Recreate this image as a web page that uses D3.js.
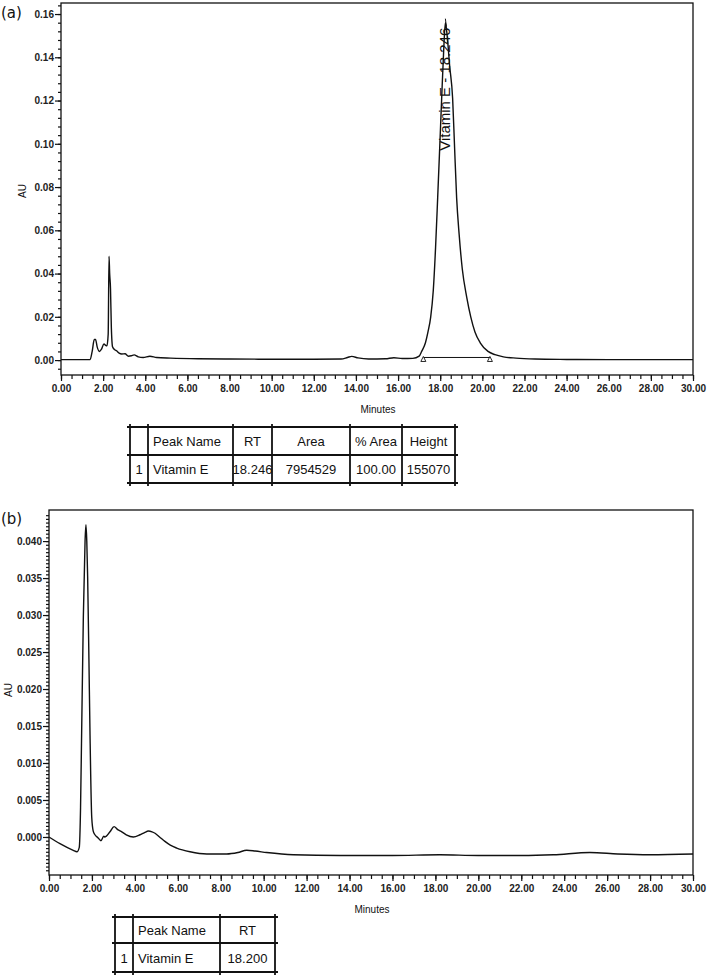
<!DOCTYPE html>
<meta charset="utf-8">
<style>
  body { margin: 0; background: #fff; }
  .trace { fill: none; stroke: #111; stroke-width: 1.4px; stroke-linejoin: round; }
  .frame { fill: none; stroke: #111; stroke-width: 1.3px; }
  .tick line { stroke: #111; stroke-width: 1.2px; }
  .lbl { font-family: "Liberation Sans", Arial, sans-serif; font-size: 10px; fill: #111; }
  .num { font-family: "Liberation Sans", Arial, sans-serif; font-size: 10px; font-weight: bold; fill: #222; }
  .tbl { font-family: "Liberation Sans", Arial, sans-serif; font-size: 13px; fill: #111; }
  .peak { font-family: "Liberation Sans", Arial, sans-serif; font-size: 15px; fill: #111; }
  .tag { font-family: "DejaVu Sans", sans-serif; font-size: 15px; fill: #111; }
</style>
<body>
<script src="https://cdn.jsdelivr.net/npm/d3@7"></script>
<script>
// panel (a): standard, minutes vs AU
var timeA = [0.00, 1.38, 1.48, 1.58, 1.64, 1.72, 1.82, 1.92, 2.04, 2.12, 2.18, 2.24, 2.28, 2.31, 2.35, 2.39,
  2.45, 2.55, 2.64, 2.76, 2.88, 3.04, 3.20, 3.34, 3.47, 3.67, 3.90, 4.22, 4.54, 5.20, 6.50, 8.00, 10.00,
  12.00, 13.30, 13.60, 13.80, 14.10, 14.60, 15.40, 15.80, 16.20, 16.70, 17.00, 17.12, 17.30, 17.42, 17.55,
  17.67, 17.78, 17.88, 17.98, 18.07, 18.16, 18.246, 18.33, 18.45, 18.59, 18.68, 18.78, 18.90, 19.05, 19.26,
  19.45, 19.65, 19.90, 20.27, 20.60, 21.00, 21.60, 22.50, 24.00, 26.00, 28.00, 30.00];
var auA = [0.0002, 0.0002, 0.004, 0.0095, 0.0095, 0.006, 0.004, 0.005, 0.0074, 0.0068, 0.0066, 0.012, 0.048,
  0.040, 0.033, 0.015, 0.006, 0.0048, 0.0043, 0.0032, 0.0028, 0.0029, 0.0018, 0.0020, 0.0024, 0.0015, 0.0012,
  0.0018, 0.0012, 0.0009, 0.0006, 0.0005, 0.0004, 0.0004, 0.0005, 0.0012, 0.0017, 0.0010, 0.0005, 0.0006,
  0.0011, 0.0007, 0.0008, 0.0018, 0.004, 0.008, 0.013, 0.020, 0.032, 0.052, 0.075, 0.099, 0.121, 0.142,
  0.156, 0.150, 0.136, 0.121, 0.099, 0.075, 0.058, 0.042, 0.029, 0.020, 0.013, 0.008, 0.004, 0.0025, 0.0015,
  0.0009, 0.0005, 0.0003, 0.0002, 0.0002, 0.0002];
var peakLabelA = "Vitamin E - 18.246";
var peakRtA = 18.246, peakAuA = 0.156;
var baseStartA = 17.2, baseEndA = 20.36, baseAuA = 0.0012;

// panel (b): sample
var timeB = [0.00, 0.51, 1.13, 1.30, 1.41, 1.47, 1.52, 1.60, 1.68, 1.72, 1.76, 1.80, 1.86, 1.91, 1.99, 2.06,
  2.14, 2.28, 2.42, 2.55, 2.61, 2.84, 3.03, 3.20, 3.39, 3.60, 3.93, 4.24, 4.45, 4.63, 4.80, 4.94, 5.15, 5.40,
  5.65, 5.95, 6.57, 7.35, 8.28, 8.80, 9.21, 9.60, 10.14, 11.38, 13.56, 16.00, 18.20, 20.00, 22.00, 23.50,
  25.20, 26.50, 28.00, 30.00];
var auB = [0.0000, -0.0009, -0.0018, -0.0020, -0.0014, 0.004, 0.014, 0.0298, 0.040, 0.0422, 0.040, 0.0352,
  0.024, 0.014, 0.0027, 0.0008, 0.0003, -0.0001, -0.0005, 0.0001, 0.0000, 0.0007, 0.0014, 0.0010, 0.0007,
  0.0003, 0.0000, 0.0003, 0.0006, 0.0008, 0.0007, 0.0005, 0.0000, -0.0006, -0.0011, -0.0015, -0.0020,
  -0.0023, -0.0023, -0.0021, -0.0018, -0.0019, -0.0021, -0.0024, -0.0025, -0.0025, -0.0024, -0.0025,
  -0.0025, -0.0024, -0.0021, -0.0023, -0.0024, -0.0023];

// tables
var headA = ["", "Peak Name", "RT", "Area", "% Area", "Height"];
var rowA = ["1", "Vitamin E", "18.246", "7954529", "100.00", "155070"];
var headB = ["", "Peak Name", "RT"];
var rowB = ["1", "Vitamin E", "18.200"];

var svg = d3.select("body").append("svg")
  .attr("width", 708)
  .attr("height", 975);

function panel(p) {
  var g = svg.append("g");
  var x = d3.scaleLinear().domain([0, 30]).range([p.left, p.right]);
  var y = d3.scaleLinear().domain(p.ydom).range([p.bottom, p.top]);

  // minor ticks first, then majors with labels
  g.append("g")
    .attr("transform", "translate(0," + p.bottom + ")")
    .call(d3.axisBottom(x).tickValues(d3.range(0, 30.01, 0.5)).tickSize(4).tickFormat(""))
    .call(function(s) { s.select(".domain").remove(); });
  g.append("g")
    .attr("transform", "translate(0," + p.bottom + ")")
    .call(d3.axisBottom(x).tickValues(d3.range(0, 30.01, 2)).tickSize(6).tickPadding(4).tickFormat(d3.format(".2f")))
    .call(function(s) {
      s.select(".domain").remove();
      s.selectAll("text").attr("class", "num").attr("font-size", null).attr("font-family", null);
    });

  g.append("g")
    .attr("transform", "translate(" + p.left + ",0)")
    .call(d3.axisLeft(y).tickValues(p.minor).tickSize(3).tickFormat(""))
    .call(function(s) { s.select(".domain").remove(); });
  g.append("g")
    .attr("transform", "translate(" + p.left + ",0)")
    .call(d3.axisLeft(y).tickValues(p.major).tickSize(6).tickPadding(1).tickFormat(d3.format(p.fmt)))
    .call(function(s) {
      s.select(".domain").remove();
      s.selectAll("text").attr("class", "num").attr("font-size", null).attr("font-family", null);
    });

  g.append("rect").attr("class", "frame")
    .attr("x", p.left).attr("y", p.top)
    .attr("width", p.right - p.left).attr("height", p.bottom - p.top);

  var pts = p.t.map(function(t, i) { return [t, p.v[i]]; });
  var line = d3.line()
    .x(function(d) { return x(d[0]); })
    .y(function(d) { return y(d[1]); })
    .curve(d3.curveMonotoneX);
  g.append("path").attr("class", "trace").attr("d", line(pts));

  g.append("text").attr("class", "lbl")
    .attr("transform", "translate(" + p.auX + "," + p.auY + ") rotate(-90)")
    .attr("text-anchor", "middle").attr("dy", "0.35em").text("AU");
  g.append("text").attr("class", "lbl")
    .attr("x", (p.left + p.right) / 2 + 1).attr("y", p.bottom + 38)
    .attr("text-anchor", "middle").text("Minutes");
  g.append("text").attr("class", "tag")
    .attr("x", 1).attr("y", p.tagY).text(p.tag);

  return { g: g, x: x, y: y };
}

function table(cols, rowsY, head, row) {
  var g = svg.append("g");
  var ext = 3;
  cols.forEach(function(cx) {
    g.append("line").attr("x1", cx).attr("x2", cx)
      .attr("y1", rowsY[0] - ext).attr("y2", rowsY[2] + ext)
      .attr("stroke", "#111").attr("stroke-width", 1.8);
  });
  rowsY.forEach(function(ry) {
    g.append("line").attr("y1", ry).attr("y2", ry)
      .attr("x1", cols[0] - ext).attr("x2", cols[cols.length - 1] + ext)
      .attr("stroke", "#111").attr("stroke-width", 1.8);
  });
  [head, row].forEach(function(r, ri) {
    r.forEach(function(txt, ci) {
      var left = ci === 1;
      g.append("text").attr("class", "tbl")
        .attr("x", left ? cols[ci] + 5 : (cols[ci] + cols[ci + 1]) / 2)
        .attr("y", (rowsY[ri] + rowsY[ri + 1]) / 2 + 5)
        .attr("text-anchor", left ? "start" : "middle")
        .text(txt);
    });
  });
}

// panel (a)
var pa = panel({
  left: 61, right: 693, top: 3, bottom: 375,
  ydom: [-0.0069, 0.1651],
  major: d3.range(0, 0.161, 0.02),
  minor: d3.range(-0.004, 0.1641, 0.004),
  fmt: ".2f",
  t: timeA, v: auA,
  auX: 22, auY: 191, tag: "(a)", tagY: 18
});

// integration baseline with markers
pa.g.append("line")
  .attr("x1", pa.x(baseStartA)).attr("x2", pa.x(baseEndA))
  .attr("y1", pa.y(baseAuA)).attr("y2", pa.y(baseAuA))
  .attr("stroke", "#111").attr("stroke-width", 1);
[baseStartA, baseEndA].forEach(function(t) {
  var cx = pa.x(t), cy = pa.y(baseAuA) + 1;
  pa.g.append("path")
    .attr("d", "M" + (cx - 2.5) + "," + (cy + 3) + "L" + cx + "," + (cy - 2) + "L" + (cx + 2.5) + "," + (cy + 3) + "Z")
    .attr("fill", "#fff").attr("stroke", "#111").attr("stroke-width", 0.9);
});
// peak label
pa.g.append("line")
  .attr("x1", pa.x(peakRtA)).attr("x2", pa.x(peakRtA) + 1)
  .attr("y1", pa.y(peakAuA) - 4).attr("y2", pa.y(peakAuA) + 4)
  .attr("stroke", "#111").attr("stroke-width", 1);
pa.g.append("text").attr("class", "peak")
  .attr("transform", "translate(" + (pa.x(peakRtA) + 5) + "," + (pa.y(peakAuA) + 5) + ") rotate(-90)")
  .attr("text-anchor", "end").text(peakLabelA);

table([130, 148, 233, 272, 350, 402, 455], [427, 455, 483], headA, rowA);

// panel (b)
panel({
  left: 49, right: 693, top: 510, bottom: 875,
  ydom: [-0.00514, 0.0442],
  major: d3.range(0, 0.0401, 0.005),
  minor: d3.range(-0.0045, 0.0436, 0.0005),
  fmt: ".3f",
  t: timeB, v: auB,
  auX: 8, auY: 690, tag: "(b)", tagY: 524
});

table([115, 133, 220, 275], [917, 943, 972], headB, rowB);
</script>
</body>
